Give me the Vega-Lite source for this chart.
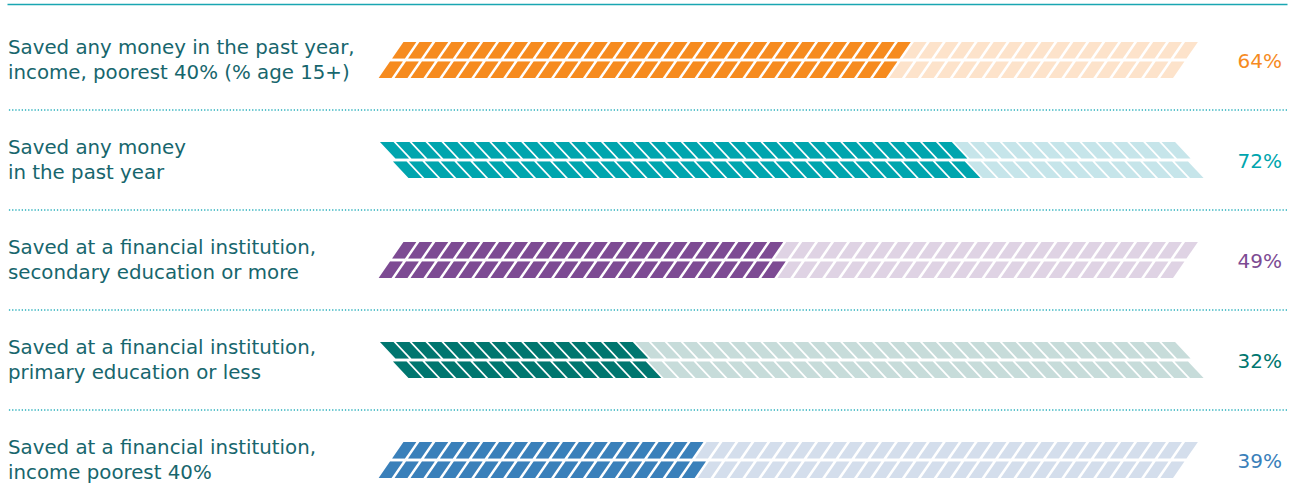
{
  "$schema": "https://vega.github.io/schema/vega-lite/v6.json",
  "width": 1280,
  "height": 498,
  "autosize": {"type": "none"},
  "padding": {"left": 7, "top": 4, "right": 7, "bottom": 0},
  "background": "white",
  "config": {"view": {"stroke": null}},
  "datasets": {
    "bars": [
      {"bar": "A", "label": "Saved any money in the past year,\nincome, poorest 40% (% age 15+)", "value": 0.64},
      {"bar": "B", "label": "Saved any money\nin the past year", "value": 0.72},
      {"bar": "C", "label": "Saved at a financial institution,\nsecondary education or more", "value": 0.49},
      {"bar": "D", "label": "Saved at a financial institution,\nprimary education or less", "value": 0.32},
      {"bar": "E", "label": "Saved at a financial institution,\nincome poorest 40%", "value": 0.39}
    ],
    "segs": [
      {"bar": "A", "part": "A top", "n": 32, "i": [0,1,2,3,4,5,6,7,8,9,10,11,12,13,14,15,16,17,18,19,20,21,22,23,24,25,26,27,28,29,30,31,32,33,34,35,36,37,38,39,40,41,42,43,44,45,46,47,48,49]},
      {"bar": "A", "part": "A bottom", "n": 32, "i": [0,1,2,3,4,5,6,7,8,9,10,11,12,13,14,15,16,17,18,19,20,21,22,23,24,25,26,27,28,29,30,31,32,33,34,35,36,37,38,39,40,41,42,43,44,45,46,47,48,49]},
      {"bar": "B", "part": "B top", "n": 36, "i": [0,1,2,3,4,5,6,7,8,9,10,11,12,13,14,15,16,17,18,19,20,21,22,23,24,25,26,27,28,29,30,31,32,33,34,35,36,37,38,39,40,41,42,43,44,45,46,47,48,49]},
      {"bar": "B", "part": "B bottom", "n": 36, "i": [0,1,2,3,4,5,6,7,8,9,10,11,12,13,14,15,16,17,18,19,20,21,22,23,24,25,26,27,28,29,30,31,32,33,34,35,36,37,38,39,40,41,42,43,44,45,46,47,48,49]},
      {"bar": "C", "part": "C top", "n": 24, "i": [0,1,2,3,4,5,6,7,8,9,10,11,12,13,14,15,16,17,18,19,20,21,22,23,24,25,26,27,28,29,30,31,32,33,34,35,36,37,38,39,40,41,42,43,44,45,46,47,48,49]},
      {"bar": "C", "part": "C bottom", "n": 25, "i": [0,1,2,3,4,5,6,7,8,9,10,11,12,13,14,15,16,17,18,19,20,21,22,23,24,25,26,27,28,29,30,31,32,33,34,35,36,37,38,39,40,41,42,43,44,45,46,47,48,49]},
      {"bar": "D", "part": "D top", "n": 16, "i": [0,1,2,3,4,5,6,7,8,9,10,11,12,13,14,15,16,17,18,19,20,21,22,23,24,25,26,27,28,29,30,31,32,33,34,35,36,37,38,39,40,41,42,43,44,45,46,47,48,49]},
      {"bar": "D", "part": "D bottom", "n": 16, "i": [0,1,2,3,4,5,6,7,8,9,10,11,12,13,14,15,16,17,18,19,20,21,22,23,24,25,26,27,28,29,30,31,32,33,34,35,36,37,38,39,40,41,42,43,44,45,46,47,48,49]},
      {"bar": "E", "part": "E top", "n": 19, "i": [0,1,2,3,4,5,6,7,8,9,10,11,12,13,14,15,16,17,18,19,20,21,22,23,24,25,26,27,28,29,30,31,32,33,34,35,36,37,38,39,40,41,42,43,44,45,46,47,48,49]},
      {"bar": "E", "part": "E bottom", "n": 20, "i": [0,1,2,3,4,5,6,7,8,9,10,11,12,13,14,15,16,17,18,19,20,21,22,23,24,25,26,27,28,29,30,31,32,33,34,35,36,37,38,39,40,41,42,43,44,45,46,47,48,49]}
    ]
  },
  "encoding": {
    "y": {"field": "bar", "type": "nominal", "axis": null,
      "scale": {"type": "band", "domain": ["A", "B", "C", "D", "E"], "range": [6, 506], "paddingInner": 0, "paddingOuter": 0}}
  },
  "layer": [
    {
      "data": {"name": "segs"},
      "transform": [{"flatten": ["i"]}],
      "mark": {"type": "point", "filled": true, "opacity": 1, "strokeWidth": 0, "size": 4},
      "encoding": {
        "x": {"field": "i", "type": "quantitative",
          "scale": {"domain": [-24.483, 55.768], "nice": false, "zero": false},
          "axis": {"orient": "top", "domain": true, "domainColor": "#1aa6b2", "domainWidth": 1.6, "ticks": false, "labels": false, "grid": false, "title": null}},
        "shape": {"field": "part", "type": "nominal", "legend": null,
          "scale": {"domain": ["A top", "A bottom", "B top", "B bottom", "C top", "C bottom", "D top", "D bottom", "E top", "E bottom"],
            "range": [
              "M6.02,-18L18.82,-18L7.44,-1.5L-5.37,-1.5Z", "M-7.44,1.5L5.37,1.5L-6.02,18L-18.82,18Z",
              "M-17.5,-18L-4,-18L11.5,-1.5L-2,-1.5Z", "M-4.5,1.5L9,1.5L24.5,18L11,18Z",
              "M6.02,-18L18.82,-18L7.44,-1.5L-5.37,-1.5Z", "M-7.44,1.5L5.37,1.5L-6.02,18L-18.82,18Z",
              "M-17.5,-18L-4,-18L11.5,-1.5L-2,-1.5Z", "M-4.5,1.5L9,1.5L24.5,18L11,18Z",
              "M6.02,-18L18.82,-18L7.44,-1.5L-5.37,-1.5Z", "M-7.44,1.5L5.37,1.5L-6.02,18L-18.82,18Z"
            ]}},
        "color": {"field": "bar", "type": "nominal", "legend": null,
          "scale": {"domain": ["A", "B", "C", "D", "E"], "range": ["#fde3cb", "#c6e5ea", "#dfd3e4", "#c7dcda", "#d4deec"]}}
      }
    },
    {
      "data": {"name": "segs"},
      "transform": [{"flatten": ["i"]}, {"filter": "datum.i < datum.n"}],
      "mark": {"type": "point", "filled": true, "opacity": 1, "strokeWidth": 0, "size": 4},
      "encoding": {
        "x": {"field": "i", "type": "quantitative"},
        "shape": {"field": "part", "type": "nominal", "legend": null},
        "color": {"field": "bar", "type": "nominal", "legend": null,
          "scale": {"domain": ["A", "B", "C", "D", "E"], "range": ["#f68b1f", "#00a5ae", "#7d4b93", "#00766f", "#3a80ba"]}}
      }
    },
    {
      "data": {"name": "bars"},
      "transform": [{"filter": "datum.bar != 'A'"}],
      "mark": {"type": "rule", "color": "#2ab0bc", "strokeWidth": 1.3, "strokeDash": [1.3, 1.9]},
      "encoding": {
        "y": {"field": "bar", "type": "nominal", "bandPosition": 0}
      }
    },
    {
      "data": {"name": "bars"},
      "mark": {"type": "text", "align": "left", "baseline": "middle", "lineBreak": "\n", "lineHeight": 24.5, "dy": -12, "font": "DejaVu Sans", "fontSize": 19.8, "color": "#17666d"},
      "encoding": {
        "x": {"value": 1},
        "text": {"field": "label"}
      }
    },
    {
      "data": {"name": "bars"},
      "mark": {"type": "text", "align": "right", "baseline": "middle", "dy": 2, "font": "DejaVu Sans", "fontSize": 20},
      "encoding": {
        "x": {"value": 1275},
        "text": {"field": "value", "type": "quantitative", "format": ".0%"},
        "color": {"field": "bar", "type": "nominal", "legend": null,
          "scale": {"domain": ["A", "B", "C", "D", "E"], "range": ["#f68b1f", "#00a5ae", "#7d4b93", "#00766f", "#3a80ba"]}}
      }
    }
  ],
  "resolve": {"scale": {"color": "independent"}}
}
